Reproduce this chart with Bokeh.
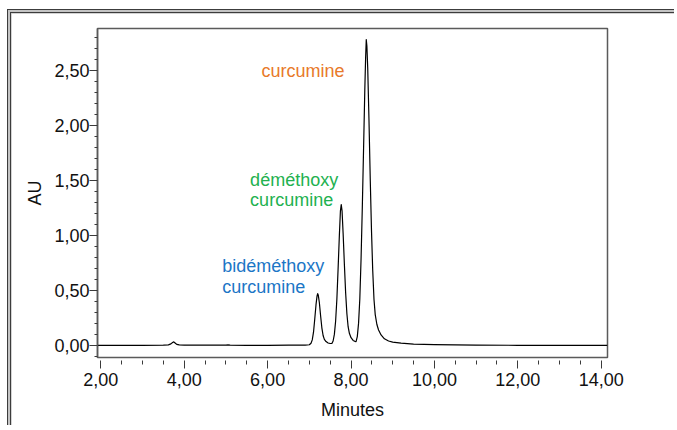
from bokeh.plotting import figure
from bokeh.models import ColumnDataSource, Range1d, FixedTicker, CustomJSTickFormatter
from bokeh.core.properties import value
from bokeh.embed import file_html
from bokeh.resources import INLINE

# ---- data ----
time_min = [1.92, 2.5, 3.0, 3.5, 3.62, 3.68, 3.72, 3.75, 3.78, 3.82, 3.88,
            4.0, 4.5, 5.0, 5.05, 5.1, 5.5, 6.0, 6.5, 6.9,
            7.0, 7.04, 7.07, 7.10, 7.13, 7.16, 7.185, 7.20, 7.215, 7.24,
            7.27, 7.30, 7.33, 7.36, 7.40, 7.45, 7.50, 7.54,
            7.57, 7.60, 7.63, 7.66, 7.69, 7.72, 7.745, 7.765, 7.785, 7.81,
            7.84, 7.87, 7.90, 7.93, 7.96, 8.00, 8.05, 8.09,
            8.12, 8.15, 8.18, 8.21, 8.24, 8.27, 8.30, 8.33, 8.35, 8.365,
            8.38, 8.40, 8.43, 8.46, 8.49, 8.52, 8.55, 8.58, 8.62, 8.66,
            8.72, 8.80, 8.90, 9.00, 9.20, 9.50, 10.0, 11.0, 12.0, 13.0, 14.15]
absorbance = [0.000, 0.000, 0.000, 0.002, 0.005, 0.014, 0.026, 0.032, 0.022, 0.009, 0.004,
              0.002, 0.002, 0.002, 0.005, 0.002, 0.001, 0.001, 0.002, 0.003,
              0.006, 0.02, 0.05, 0.12, 0.24, 0.37, 0.45, 0.47, 0.455, 0.39,
              0.27, 0.16, 0.09, 0.055, 0.035, 0.022, 0.017, 0.018,
              0.04, 0.10, 0.22, 0.42, 0.70, 1.00, 1.22, 1.28, 1.22, 1.02,
              0.74, 0.48, 0.29, 0.17, 0.11, 0.07, 0.045, 0.037,
              0.035, 0.08, 0.20, 0.42, 0.78, 1.25, 1.78, 2.32, 2.62, 2.78,
              2.72, 2.52, 2.05, 1.52, 1.05, 0.68, 0.42, 0.28, 0.19, 0.14,
              0.095, 0.06, 0.04, 0.03, 0.02, 0.012, 0.007, 0.003, 0.001, 0.0, 0.0]

peak_label_lines = ["curcumine", "déméthoxy", "curcumine", "bidéméthoxy", "curcumine"]
peak_label_colors = ["#E8792A", "#22B14F", "#22B14F", "#1C76C6", "#1C76C6"]

x_major_ticks = [2, 4, 6, 8, 10, 12, 14]
x_minor_ticks = [2.5, 3, 3.5, 4.5, 5, 5.5, 6.5, 7, 7.5, 8.5, 9, 9.5, 10.5, 11, 11.5, 12.5, 13, 13.5]
y_major_ticks = [0, 0.5, 1.0, 1.5, 2.0, 2.5]
y_minor_ticks = [-0.1, 0.1, 0.2, 0.3, 0.4, 0.6, 0.7, 0.8, 0.9, 1.1, 1.2, 1.3, 1.4,
                 1.6, 1.7, 1.8, 1.9, 2.1, 2.2, 2.3, 2.4, 2.6, 2.7, 2.8]

# label anchor positions (data coordinates, left / baseline)
label_x = [5.85, 5.58, 5.58, 4.91, 4.91]
label_y = [2.49, 1.50, 1.325, 0.718, 0.535]

FONT = "Liberation Sans"

p = figure(width=667, height=416, output_backend="svg", toolbar_location=None,
           x_range=Range1d(1.92, 14.15), y_range=Range1d(-0.11, 2.88),
           min_border_left=86, min_border_right=71, min_border_top=15, min_border_bottom=72,
           background_fill_color="white", border_fill_color="white")
p.styles = {"border-left": "4px double #3c3c3c", "border-top": "4px double #3c3c3c",
            "background-color": "#c4c4c4", "margin-left": "7px", "margin-top": "9px"}

p.grid.visible = False
p.outline_line_color = "#5a5a5a"
p.outline_line_width = 1.5

fmt = CustomJSTickFormatter(code="return tick.toFixed(2).replace('.', ',');")

xa = p.xaxis[0]
xa.ticker = FixedTicker(ticks=x_major_ticks, minor_ticks=x_minor_ticks)
xa.formatter = fmt
xa.axis_line_color = None
xa.major_tick_in = -3
xa.major_tick_out = 11
xa.minor_tick_in = -3
xa.minor_tick_out = 7
xa.major_tick_line_color = "#3a3a3a"
xa.minor_tick_line_color = "#3a3a3a"
xa.major_label_standoff = 4
xa.axis_label = "Minutes"
xa.axis_label_standoff = 11

ya = p.yaxis[0]
ya.ticker = FixedTicker(ticks=y_major_ticks, minor_ticks=y_minor_ticks)
ya.formatter = fmt
ya.axis_line_color = "#5a5a5a"
ya.axis_line_width = 1.5
ya.major_tick_in = 0
ya.major_tick_out = 8
ya.minor_tick_in = 0
ya.minor_tick_out = 3
ya.major_tick_line_color = "#3a3a3a"
ya.minor_tick_line_color = "#3a3a3a"
ya.major_label_standoff = 0
ya.axis_label = "AU"
ya.axis_label_standoff = 6

for ax in (xa, ya):
    ax.major_label_text_font = FONT
    ax.major_label_text_font_size = "18px"
    ax.major_label_text_color = "#111111"
    ax.axis_label_text_font = FONT
    ax.axis_label_text_font_size = "18px"
    ax.axis_label_text_font_style = "normal"
    ax.axis_label_text_color = "#111111"

src = ColumnDataSource(dict(t=time_min, au=absorbance))
p.line("t", "au", source=src, line_color="black", line_width=1.2, line_join="round")

lab = ColumnDataSource(dict(x=label_x, y=label_y, text=peak_label_lines, color=peak_label_colors))
p.text(x="x", y="y", text="text", source=lab, text_color="color",
       text_font=value(FONT), text_font_size="18px",
       text_align="left", text_baseline="alphabetic")

open("out.html", "w").write(file_html(p, INLINE))
